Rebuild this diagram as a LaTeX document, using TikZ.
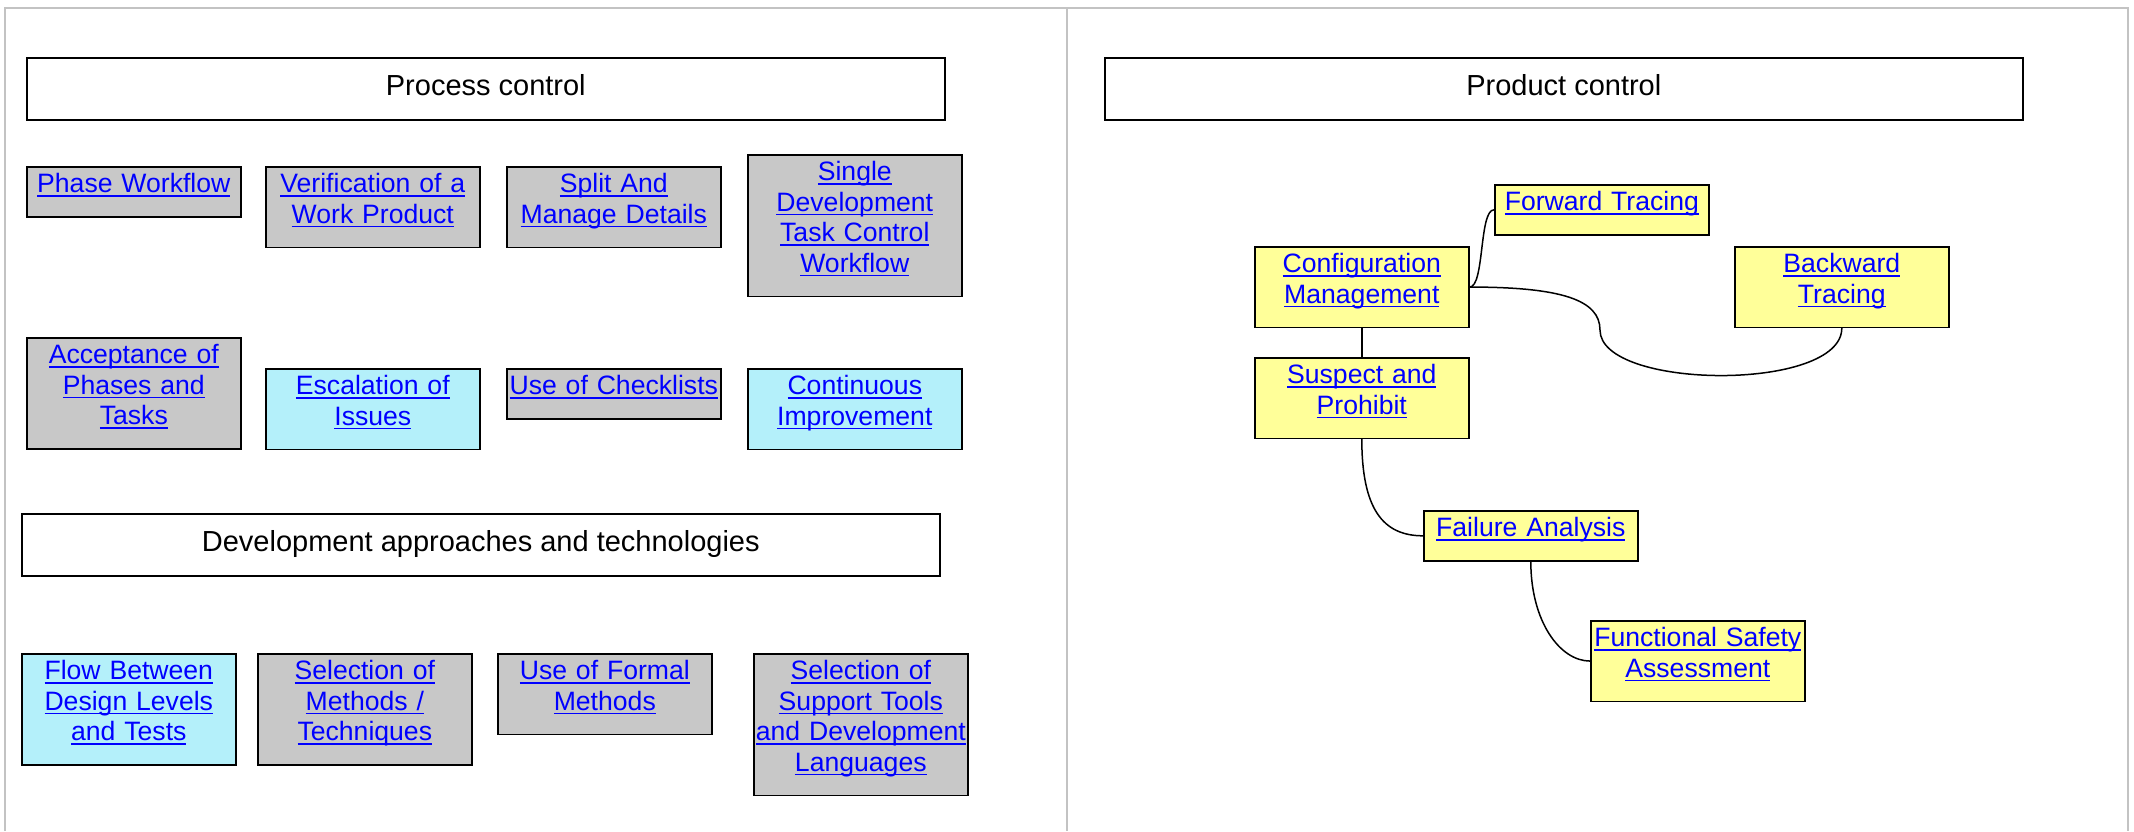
\documentclass[tikz,border=0pt]{standalone}
\usepackage{fontspec}
\setmainfont{Liberation Sans}
\definecolor{boxgray}{RGB}{200,200,200}
\definecolor{boxcyan}{RGB}{180,240,250}
\definecolor{boxyellow}{RGB}{255,255,153}
\definecolor{linkblue}{RGB}{0,0,255}
\definecolor{framegray}{RGB}{195,195,195}
\newsavebox\lnkbox
% underlined hyperlink-style line
\newcommand\lnk[1]{\leavevmode\sbox\lnkbox{#1}\rlap{\rule[-4pt]{\wd\lnkbox}{1.8pt}}\usebox\lnkbox}
\newcommand\linkfont{\fontsize{26.6pt}{30.5pt}\selectfont}
\newcommand\headfont{\fontsize{29pt}{33pt}\selectfont}
\begin{document}
\begin{tikzpicture}[x=1pt,y=-1pt,
  topic/.style={draw=black, line width=1.6pt, anchor=north west,
    inner xsep=2pt, inner ysep=0pt, text width=210pt, align=center,
    text height=26pt, font=\linkfont, text=linkblue,
    execute at end node={\rule[-24pt]{0pt}{24pt}}},
  gtopic/.style={topic, fill=boxgray},
  ctopic/.style={topic, fill=boxcyan},
  ytopic/.style={topic, fill=boxyellow},
  header/.style={draw=black, line width=1.6pt, anchor=north west,
    minimum width=918pt, minimum height=62pt, inner sep=0pt,
    text height=20pt, text depth=6pt, font=\headfont},
  link/.style={draw=black, line width=1.5pt},
  frame/.style={draw=framegray, line width=2pt}]
\useasboundingbox (0,0) rectangle (2134,831);
% panel frame
\draw[frame] (5,831) -- (5,8) -- (2128,8) -- (2128,831);
\draw[frame] (1067,8) -- (1067,831);

% process control
\node[header] (pc) at (26,57) {Process control};
\node[gtopic] (pw) at (26,166) {\lnk{Phase Workflow}};
\node[gtopic] (vw) at (265,166) {\lnk{Verification of a}\\\lnk{Work Product}};
\node[gtopic] (sm) at (506,166) {\lnk{Split And}\\\lnk{Manage Details}};
\node[gtopic] (sd) at (747,154) {\lnk{Single}\\\lnk{Development}\\\lnk{Task Control}\\\lnk{Workflow}};
\node[gtopic] (ap) at (26,337) {\lnk{Acceptance of}\\\lnk{Phases and}\\\lnk{Tasks}};
\node[ctopic] (ei) at (265,368) {\lnk{Escalation of}\\\lnk{Issues}};
\node[gtopic] (uc) at (506,368) {\lnk{Use of Checklists}};
\node[ctopic] (ci) at (747,368) {\lnk{Continuous}\\\lnk{Improvement}};

% development approaches
\node[header] (da) at (21,513) {Development approaches and technologies};
\node[ctopic] (fb) at (21,653) {\lnk{Flow Between}\\\lnk{Design Levels}\\\lnk{and Tests}};
\node[gtopic] (sl) at (257,653) {\lnk{Selection of}\\\lnk{Methods /}\\\lnk{Techniques}};
\node[gtopic] (uf) at (497,653) {\lnk{Use of Formal}\\\lnk{Methods}};
\node[gtopic] (st) at (753,653) {\lnk{Selection of}\\\lnk{Support Tools}\\\lnk{and Development}\\\lnk{Languages}};

% product control
\node[header] (prc) at (1104,57) {Product control};
\node[ytopic] (ft) at (1494,184) {\lnk{Forward Tracing}};
\node[ytopic] (cm) at (1254,246) {\lnk{Configuration}\\\lnk{Management}};
\node[ytopic] (bt) at (1734,246) {\lnk{Backward}\\\lnk{Tracing}};
\node[ytopic] (sp) at (1254,357) {\lnk{Suspect and}\\\lnk{Prohibit}};
\node[ytopic] (fa) at (1423,510) {\lnk{Failure Analysis}};
\node[ytopic] (fs) at (1590,620) {\lnk{Functional Safety}\\\lnk{Assessment}};

% links between product control topics
\coordinate (bend) at (1600,330);
\draw[link] (cm.east) .. controls +(15,0) and +(-15,0) .. (ft.west);
\draw[link] (cm.east) .. controls +(92,0) and +(0,-30) .. (bend)
  .. controls +(0,60) and +(0,64) .. (bt.south);
\draw[link] (cm.south) -- (sp.north);
\draw[link] (sp.south) .. controls +(0,70) and +(-40,0) .. (fa.west);
\draw[link] (fa.south) .. controls +(0,60) and +(-30,0) .. (fs.west);
\end{tikzpicture}
\end{document}
